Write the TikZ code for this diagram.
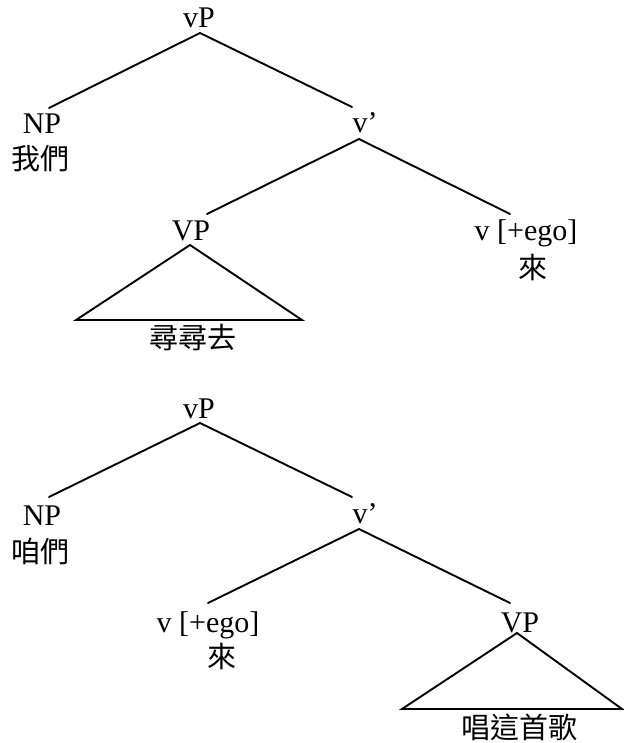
\documentclass[tikz,border=0pt]{standalone}
\usepackage{fontspec}
\setmainfont{Liberation Serif}
\newfontfamily\cjk{Noto Sans CJK TC}
\begin{document}
\begin{tikzpicture}[x=0.5pt,y=-0.5pt,
  lab/.style={inner sep=0pt,anchor=base,font=\fontsize{15}{18}\selectfont},
  han/.style={inner sep=0pt,anchor=center,font=\fontsize{14.5}{18}\selectfont\cjk},
  edge/.style={line width=0.95pt,line cap=round,line join=miter}]
\useasboundingbox (0,0) rectangle (623,743);
% ---------- tree 1 ----------
\node[lab] (vP1) at (199,28) {vP};
\node[lab] (NP1) at (42,134) {NP};
\node[han] (w1) at (40,158.5) {我們};
\node[lab] (vb1) at (365,133) {v’};
\node[lab] (VP1) at (191,241) {VP};
\node[lab] (ego1) at (526,241) {v [+ego]};
\node[han] (lai1) at (533,267) {來};
\node[han] (tri1t) at (193,337) {尋尋去};
\coordinate (a1) at (200,33);
\coordinate (np1e) at (49,108);
\coordinate (vb1t) at (352,107);
\coordinate (vb1b) at (359,139);
\coordinate (VP1t) at (207,214);
\coordinate (ego1t) at (510,214);
\coordinate (t1a) at (190,245);
\coordinate (t1l) at (76,320);
\coordinate (t1r) at (302,320);
\draw[edge] (np1e) -- (a1) -- (vb1t);
\draw[edge] (VP1t) -- (vb1b) -- (ego1t);
\draw[edge] (t1a) -- (t1l) -- (t1r) -- cycle;
% ---------- tree 2 ----------
\node[lab] (vP2) at (199,418) {vP};
\node[lab] (NP2) at (42,525) {NP};
\node[han] (w2) at (40,551) {咱們};
\node[lab] (vb2) at (365,523) {v’};
\node[lab] (ego2) at (208,632) {v [+ego]};
\node[han] (lai2) at (222,656) {來};
\node[lab] (VP2) at (520,632) {VP};
\node[han] (tri2t) at (519,727) {唱這首歌};
\coordinate (a2) at (200,423);
\coordinate (np2e) at (49,497);
\coordinate (vb2t) at (352,497);
\coordinate (vb2b) at (359,529);
\coordinate (ego2t) at (208,603);
\coordinate (VP2t) at (510,603);
\coordinate (t2a) at (517,633);
\coordinate (t2l) at (402,709);
\coordinate (t2r) at (622,709);
\draw[edge] (np2e) -- (a2) -- (vb2t);
\draw[edge] (ego2t) -- (vb2b) -- (VP2t);
\draw[edge] (t2a) -- (t2l) -- (t2r) -- cycle;
\end{tikzpicture}
\end{document}
